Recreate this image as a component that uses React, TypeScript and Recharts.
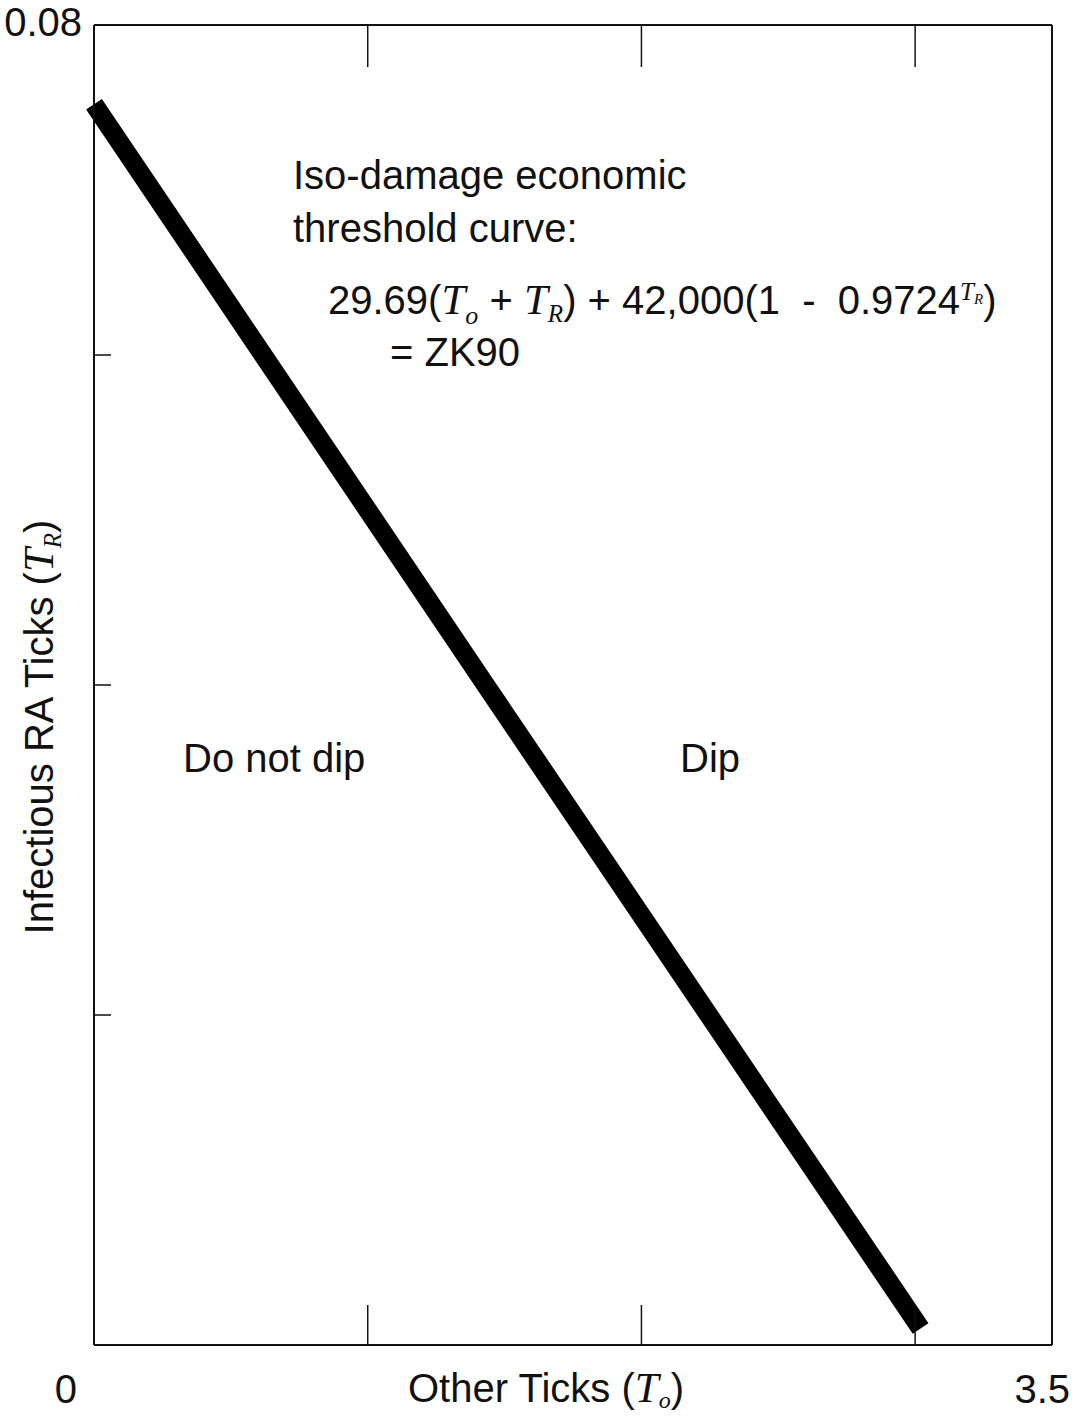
import React from "react";
import { LineChart, Line, XAxis, YAxis, Customized } from "recharts";

// values
const otherTicks = [0, 1.443, 3.02];
const raTicks = [0.0752, 0.0397, 0.001];
const xTickValues = [0, 1, 2, 3, 3.5];
const yTickValues = [0, 0.02, 0.04, 0.06, 0.08];
const xTickLabels: Record<string, string> = { "0": "0", "3.5": "3.5" };
const yTickLabels: Record<string, string> = { "0.08": "0.08" };

const data = otherTicks.map((to, i) => ({ to, tr: raTicks[i] }));

const SANS = "'Liberation Sans', Arial, Helvetica, sans-serif";
const SERIF = "'Liberation Serif', 'Times New Roman', serif";
const INK = "#111";

const BottomTick = (props: any) => {
  const { x, y, payload } = props;
  const v = payload.value;
  const label = xTickLabels[String(v)];
  const inner = v > 0 && v < 3.5;
  return (
    <g>
      {inner && <line x1={x} y1={y} x2={x} y2={y - 40} stroke={INK} strokeWidth={1.5} />}
      {label && (
        <text
          x={v === 0 ? x - 17 : x + 18}
          y={y + 58}
          textAnchor="end"
          fontFamily={SANS}
          fontSize={40}
          fill={INK}
        >
          {label}
        </text>
      )}
    </g>
  );
};

const TopTick = (props: any) => {
  const { x, y, payload } = props;
  const v = payload.value;
  if (!(v > 0 && v < 3.5)) return <g />;
  return <line x1={x} y1={y} x2={x} y2={y + 42} stroke={INK} strokeWidth={1.5} />;
};

const LeftTick = (props: any) => {
  const { x, y, payload } = props;
  const v = payload.value;
  const label = yTickLabels[String(v)];
  const inner = v > 0 && v < 0.08;
  return (
    <g>
      {inner && <line x1={x} y1={y} x2={x + 17} y2={y} stroke={INK} strokeWidth={1.5} />}
      {label && (
        <text x={x - 12} y={y + 11} textAnchor="end" fontFamily={SANS} fontSize={40} fill={INK}>
          {label}
        </text>
      )}
    </g>
  );
};

const RightTick = (props: any) => {
  const { x, y, payload } = props;
  const v = payload.value;
  if (!(v > 0 && v < 0.08)) return <g />;
  return <line x1={x - 17} y1={y} x2={x} y2={y} stroke={INK} strokeWidth={1.5} />;
};

const Annotations = () => (
  <g fontFamily={SANS} fontSize={40} fill={INK}>
    <text x={293} y={189}>Iso-damage economic</text>
    <text x={293} y={242}>threshold curve:</text>
    <text x={328} y={314}>
      {"29.69("}
      <tspan fontFamily={SERIF} fontStyle="italic" fontSize={43}>T</tspan>
      <tspan fontFamily={SERIF} fontStyle="italic" fontSize={26} dy={10}>o</tspan>
      <tspan dy={-10}>{" + "}</tspan>
      <tspan fontFamily={SERIF} fontStyle="italic" fontSize={43}>T</tspan>
      <tspan fontFamily={SERIF} fontStyle="italic" fontSize={25} dy={8}>R</tspan>
      <tspan dy={-8}>{") + 42,000(1\u00a0\u00a0-\u00a0\u00a00.9724"}</tspan>
      <tspan fontFamily={SERIF} fontStyle="italic" fontSize={25} dy={-14}>T</tspan>
      <tspan fontFamily={SERIF} fontStyle="italic" fontSize={15} dy={4}>R</tspan>
      <tspan dy={10}>{")"}</tspan>
    </text>
    <text x={390} y={366}>= ZK90</text>
    <text x={183} y={772}>Do not dip</text>
    <text x={680} y={772}>Dip</text>
    <text x={408} y={1402}>
      {"Other Ticks ("}
      <tspan fontFamily={SERIF} fontStyle="italic" fontSize={43}>T</tspan>
      <tspan fontFamily={SERIF} fontStyle="italic" fontSize={24} dy={6}>o</tspan>
      <tspan dy={-6}>{")"}</tspan>
    </text>
    <text x={53} y={727} textAnchor="middle" transform="rotate(-90, 53, 727)">
      {"Infectious RA Ticks ("}
      <tspan fontFamily={SERIF} fontStyle="italic" fontSize={43}>T</tspan>
      <tspan fontFamily={SERIF} fontStyle="italic" fontSize={25} dy={8}>R</tspan>
      <tspan dy={-8}>{")"}</tspan>
    </text>
  </g>
);

export default function App() {
  return (
    <div style={{ position: "absolute", left: 0, top: 0, background: "#fff" }}>
      <LineChart
        width={1084}
        height={1418}
        data={data}
        margin={{ top: 0, right: 0, bottom: 0, left: 0 }}
      >
        <XAxis
          dataKey="to"
          type="number"
          domain={[0, 3.5]}
          ticks={xTickValues}
          interval={0}
          height={73}
          tickSize={0}
          tickMargin={0}
          tickLine={false}
          axisLine={{ stroke: INK, strokeWidth: 2 }}
          tick={<BottomTick />}
        />
        <XAxis
          xAxisId="top"
          orientation="top"
          dataKey="to"
          type="number"
          domain={[0, 3.5]}
          ticks={xTickValues}
          interval={0}
          height={25}
          tickSize={0}
          tickMargin={0}
          tickLine={false}
          axisLine={{ stroke: INK, strokeWidth: 2 }}
          tick={<TopTick />}
        />
        <YAxis
          type="number"
          domain={[0, 0.08]}
          ticks={yTickValues}
          interval={0}
          width={94}
          tickSize={0}
          tickMargin={0}
          tickLine={false}
          axisLine={{ stroke: INK, strokeWidth: 2 }}
          tick={<LeftTick />}
        />
        <YAxis
          yAxisId="right"
          orientation="right"
          type="number"
          domain={[0, 0.08]}
          ticks={yTickValues}
          interval={0}
          width={32}
          tickSize={0}
          tickMargin={0}
          tickLine={false}
          axisLine={{ stroke: INK, strokeWidth: 2 }}
          tick={<RightTick />}
        />
        <Line
          type="linear"
          dataKey="tr"
          stroke="#000"
          strokeWidth={19}
          strokeLinecap="butt"
          dot={false}
          activeDot={false}
          isAnimationActive={false}
        />
        <Customized component={Annotations} />
      </LineChart>
    </div>
  );
}
